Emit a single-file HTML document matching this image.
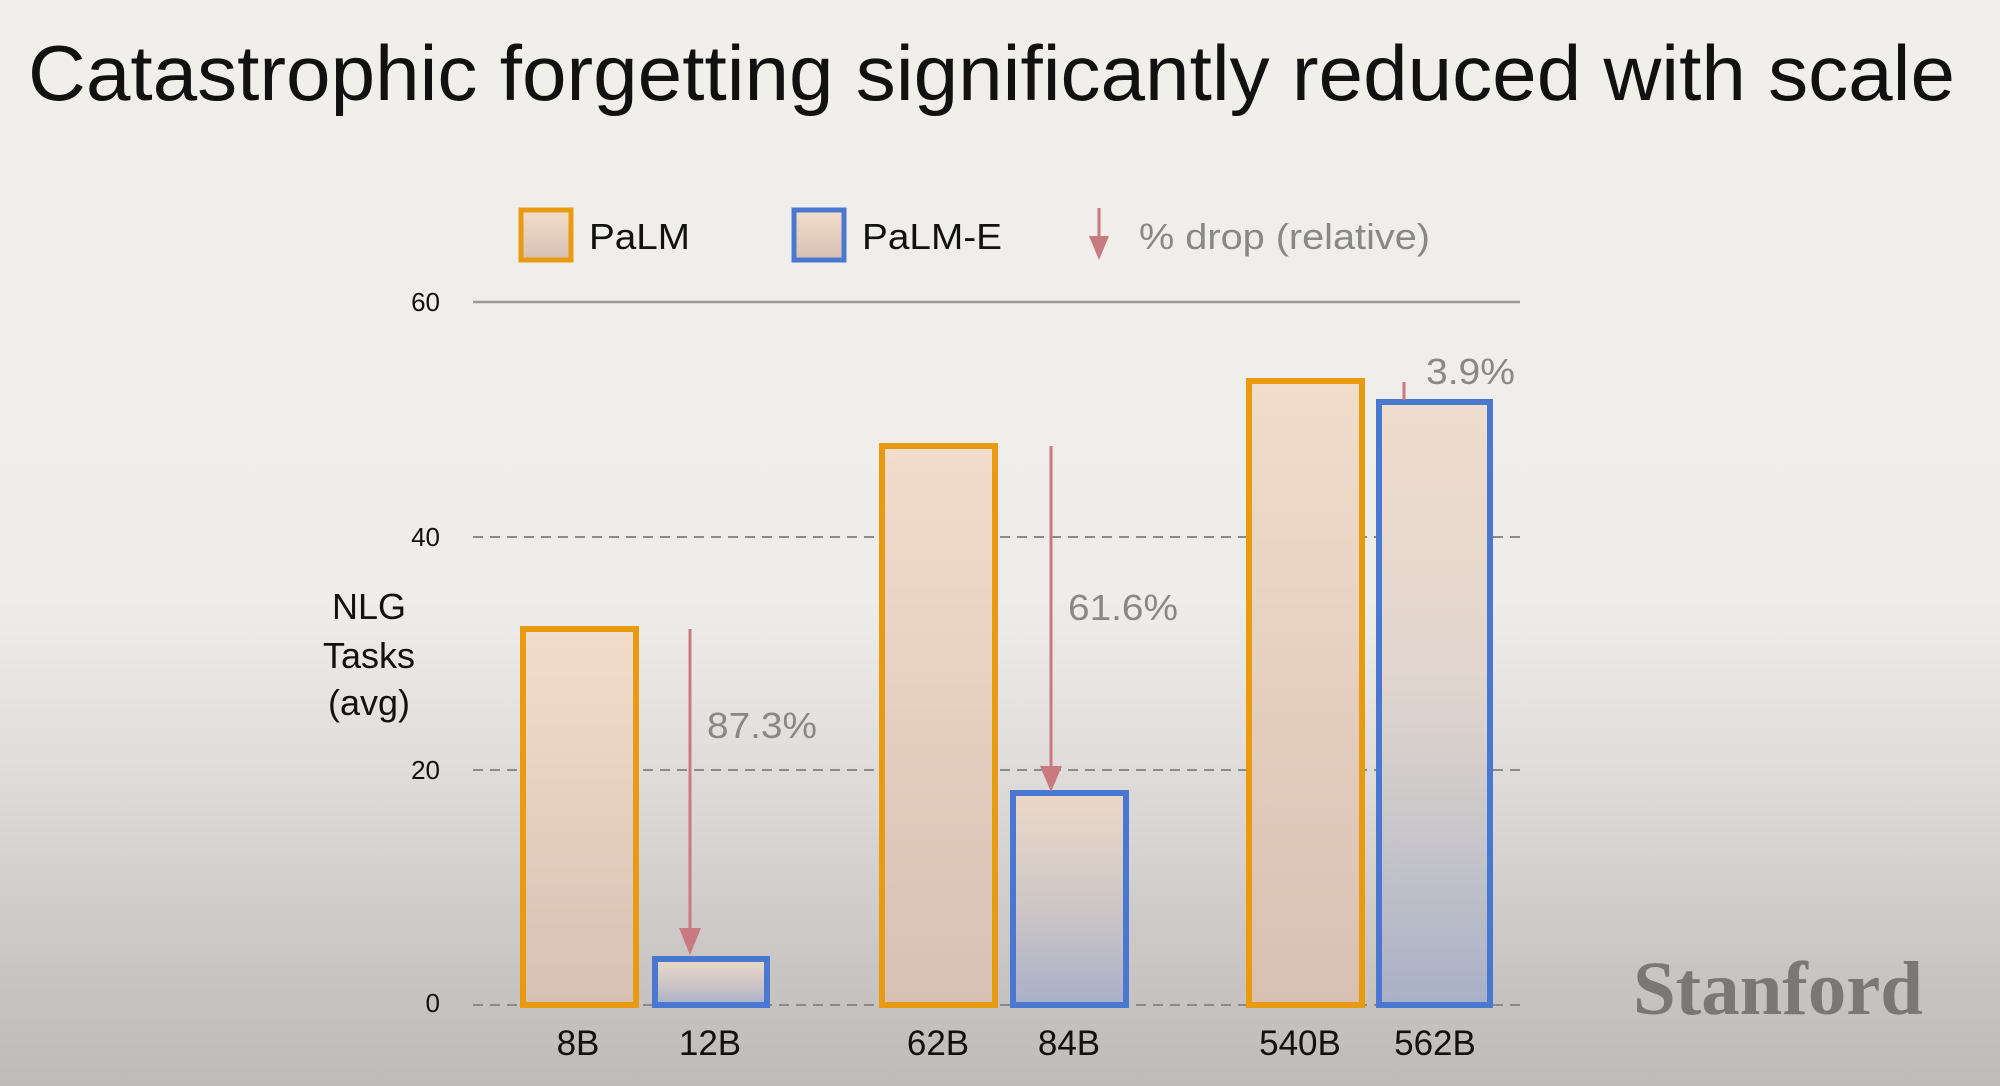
<!DOCTYPE html>
<html><head><meta charset="utf-8"><style>
html,body{margin:0;padding:0;width:2000px;height:1086px;overflow:hidden;}
body{background:linear-gradient(to bottom,#f1efeb 0px,#efede9 600px,#dcd9d6 800px,#c9c6c3 960px,#bebbb8 1086px);}
svg{position:absolute;left:0;top:0;}
</style></head><body>
<svg width="2000" height="1086" viewBox="0 0 2000 1086" font-family="Liberation Sans, sans-serif">
<defs>
<linearGradient id="og" x1="0" y1="0" x2="0" y2="1"><stop offset="0" stop-color="#f2ddcb"/><stop offset="1" stop-color="#d8c0b2"/></linearGradient>
<linearGradient id="bg1" gradientUnits="userSpaceOnUse" x1="0" y1="400" x2="0" y2="1005"><stop offset="0" stop-color="#efdccc"/><stop offset="0.45" stop-color="#e2d6cf"/><stop offset="0.65" stop-color="#cfcbcb"/><stop offset="1" stop-color="#a9b0c6"/></linearGradient>
<linearGradient id="bg2" x1="0" y1="0" x2="0" y2="1"><stop offset="0" stop-color="#ecd8c8"/><stop offset="0.5" stop-color="#d0c8c6"/><stop offset="1" stop-color="#a9b0c8"/></linearGradient>
</defs>
<text x="28" y="100" font-size="78" fill="#111" textLength="1927" lengthAdjust="spacingAndGlyphs">Catastrophic forgetting significantly reduced with scale</text>
<!-- legend -->
<rect x="521" y="210" width="50" height="50" fill="url(#og)" stroke="#e89a10" stroke-width="5"/>
<text x="589" y="249" font-size="36" fill="#111" textLength="101" lengthAdjust="spacingAndGlyphs">PaLM</text>
<rect x="794" y="210" width="50" height="50" fill="url(#og)" stroke="#4a78d0" stroke-width="5"/>
<text x="862" y="249" font-size="36" fill="#111" textLength="140" lengthAdjust="spacingAndGlyphs">PaLM-E</text>
<line x1="1099" y1="208" x2="1099" y2="240" stroke="#c87a80" stroke-width="3"/>
<polygon points="1089,236 1109,236 1099,260" fill="#c87a80"/>
<text x="1139" y="249" font-size="36" fill="#888" textLength="291" lengthAdjust="spacingAndGlyphs">% drop (relative)</text>
<!-- grid -->
<line x1="473" y1="302" x2="1520" y2="302" stroke="#999" stroke-width="2.5"/>
<g stroke="#8a8a8a" stroke-width="2" stroke-dasharray="10,7">
<line x1="473" y1="537" x2="1520" y2="537"/>
<line x1="473" y1="770" x2="1520" y2="770"/>
<line x1="473" y1="1005" x2="1520" y2="1005"/>
</g>
<g font-size="26" fill="#111" text-anchor="end">
<text x="440" y="311">60</text><text x="440" y="546">40</text><text x="440" y="779">20</text><text x="440" y="1012">0</text>
</g>
<g font-size="36" fill="#111" text-anchor="middle">
<text x="369" y="619">NLG</text><text x="369" y="668">Tasks</text><text x="369" y="715">(avg)</text>
</g>
<!-- bars -->
<g stroke-width="6">
<rect x="523" y="629" width="113" height="376" fill="url(#og)" stroke="#e89a10"/>
<rect x="655" y="959" width="112" height="46" fill="url(#bg2)" stroke="#4a78d0"/>
<rect x="882" y="446" width="113" height="559" fill="url(#og)" stroke="#e89a10"/>
<rect x="1013" y="793" width="113" height="212" fill="url(#bg2)" stroke="#4a78d0"/>
<rect x="1249" y="381" width="113" height="624" fill="url(#og)" stroke="#e89a10"/>
<rect x="1379" y="402" width="111" height="603" fill="url(#bg1)" stroke="#4a78d0"/>
</g>
<!-- drop arrows -->
<g stroke="#c87a80" stroke-width="3">
<line x1="690" y1="629" x2="690" y2="930"/>
<line x1="1051" y1="446" x2="1051" y2="768"/>
<line x1="1404" y1="382" x2="1404" y2="400"/>
</g>
<polygon points="679,928 701,928 690,955" fill="#c87a80"/>
<polygon points="1040,766 1062,766 1051,792" fill="#c87a80"/>
<g font-size="36" fill="#888">
<text x="707" y="738" textLength="110" lengthAdjust="spacingAndGlyphs">87.3%</text>
<text x="1068" y="620" textLength="110" lengthAdjust="spacingAndGlyphs">61.6%</text>
<text x="1426" y="384" textLength="89" lengthAdjust="spacingAndGlyphs">3.9%</text>
</g>
<g font-size="35" fill="#111" text-anchor="middle">
<text x="578" y="1055">8B</text><text x="710" y="1055">12B</text>
<text x="938" y="1055">62B</text><text x="1069" y="1055">84B</text>
<text x="1300" y="1055">540B</text><text x="1435" y="1055">562B</text>
</g>
<text x="1633" y="1014" font-family="Liberation Serif, serif" font-size="76" font-weight="bold" fill="#7a7876" textLength="290" lengthAdjust="spacingAndGlyphs">Stanford</text>
</svg>
</body></html>
